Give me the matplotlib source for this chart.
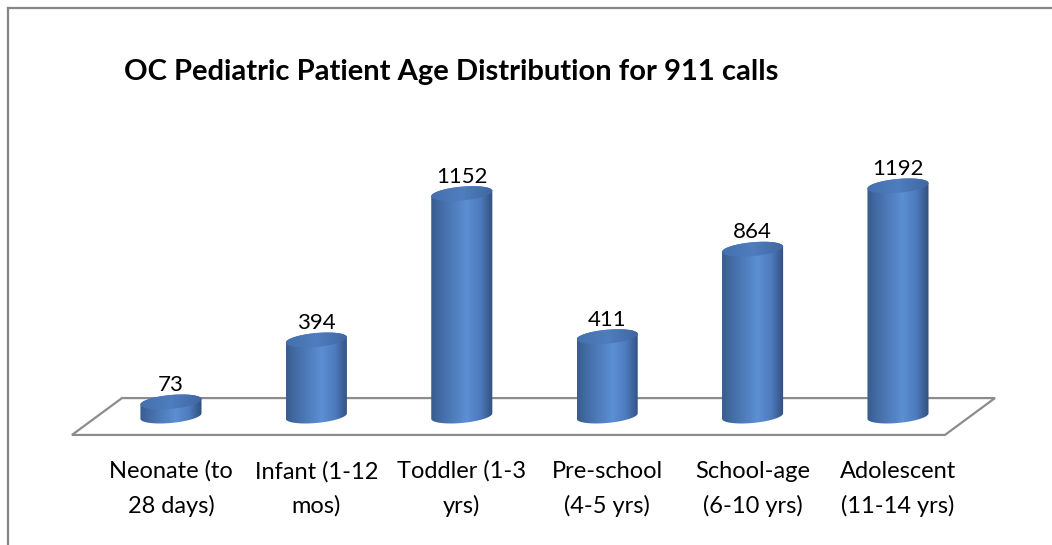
import numpy as np
import matplotlib
matplotlib.use("Agg")
import matplotlib.pyplot as plt
from matplotlib.patches import PathPatch, Polygon
from matplotlib.path import Path
from matplotlib.lines import Line2D
from matplotlib.colors import LinearSegmentedColormap

plt.rcParams['font.family'] = ['Lato', 'DejaVu Sans']

# data
categories = ["Neonate (to\n28 days)", "Infant (1-12\nmos)", "Toddler (1-3\nyrs)",
              "Pre-school\n(4-5 yrs)", "School-age\n(6-10 yrs)", "Adolescent\n(11-14 yrs)"]
calls = [73, 394, 1152, 411, 864, 1192]
title = "OC Pediatric Patient Age Distribution for 911 calls"

# cylinder geometry (category units / value units)
half_w = 0.21
ell_b = 36.0
ell_s = 14.0

body_cmap = LinearSegmentedColormap.from_list("body", [
    (0.00, (0.22, 0.36, 0.56)),
    (0.18, (0.27, 0.43, 0.66)),
    (0.58, (0.36, 0.56, 0.83)),
    (0.80, (0.30, 0.48, 0.74)),
    (1.00, (0.19, 0.31, 0.49))])
top_cmap = LinearSegmentedColormap.from_list("top", [
    (0.0, (0.27, 0.44, 0.68)),
    (0.5, (0.31, 0.49, 0.75)),
    (1.0, (0.25, 0.40, 0.63))])

fig = plt.figure(figsize=(10.52, 5.45), dpi=100)
ax = fig.add_axes([0.0934, 0.1743, 0.8293, 0.5505])
ax.set_xlim(-0.5, 5.5)
ax.set_ylim(-176, 1378)
ax.axis('off')

# chart border (left and top only visible)
fig.add_artist(Line2D([8/1052, 8/1052], [0, 1 - 8/545], color="#868686", lw=1.6,
                      transform=fig.transFigure))
fig.add_artist(Line2D([8/1052, 1], [1 - 8/545, 1 - 8/545], color="#868686", lw=1.6,
                      transform=fig.transFigure))

# floor
n = len(calls)
depth = 0.344
floor_back, floor_front = 93, -98
floor = Polygon([(-0.681, floor_front), (-0.681 + depth, floor_back),
                 (n - 1 + 0.667, floor_back), (n - 1 + 0.667 - depth, floor_front)],
                closed=True, facecolor="white", edgecolor="#8c8c8c", lw=1.6, zorder=1,
                clip_on=False)
ax.add_patch(floor)

t_low = np.linspace(np.pi, 2 * np.pi, 60)
t_up = np.linspace(0, np.pi, 60)
t_all = np.linspace(0, 2 * np.pi, 120)
grad = np.linspace(0, 1, 256).reshape(1, -1)

for i, v in enumerate(calls):
    xl, xr = i - half_w, i + half_w
    # body outline: bottom front arc, right edge, top back arc, left edge
    bx = np.concatenate([i + half_w * np.cos(t_low), i + half_w * np.cos(t_up)])
    by = np.concatenate([ell_b * np.sin(t_low) + ell_s * np.cos(t_low),
                         v + ell_b * np.sin(t_up) + ell_s * np.cos(t_up)])
    body = PathPatch(Path(np.column_stack([bx, by])), facecolor="none", edgecolor="none")
    ax.add_patch(body)
    im = ax.imshow(grad, cmap=body_cmap, extent=[xl, xr, -ell_b - ell_s - 5, v + ell_b + ell_s + 5],
                   aspect='auto', zorder=2, interpolation='bilinear')
    im.set_clip_path(body)

    # top ellipse
    tx = i + half_w * np.cos(t_all)
    ty = v + ell_b * np.sin(t_all) + ell_s * np.cos(t_all)
    top = PathPatch(Path(np.column_stack([tx, ty])), facecolor="none", edgecolor="none")
    ax.add_patch(top)
    im2 = ax.imshow(grad, cmap=top_cmap, extent=[xl, xr, v - ell_b - ell_s, v + ell_b + ell_s],
                    aspect='auto', zorder=3, interpolation='bilinear')
    im2.set_clip_path(top)

    ax.annotate(str(v), (i, v + np.hypot(ell_b, ell_s)), xytext=(0, 2.5),
                textcoords='offset points', ha='center', va='baseline',
                fontsize=16, color="black", zorder=4)

    ax.text(i, -0.21, categories[i], transform=ax.get_xaxis_transform(),
            ha='center', va='baseline', fontsize=17, linespacing=1.72, color="black")

ax.set_xlim(-0.5, 5.5)
ax.set_ylim(-176, 1378)

fig.text(0.429, 1 - 80/545, title, ha='center', va='baseline',
         fontsize=21, fontweight='bold', color="black")

fig.savefig("out.png", dpi=100)
